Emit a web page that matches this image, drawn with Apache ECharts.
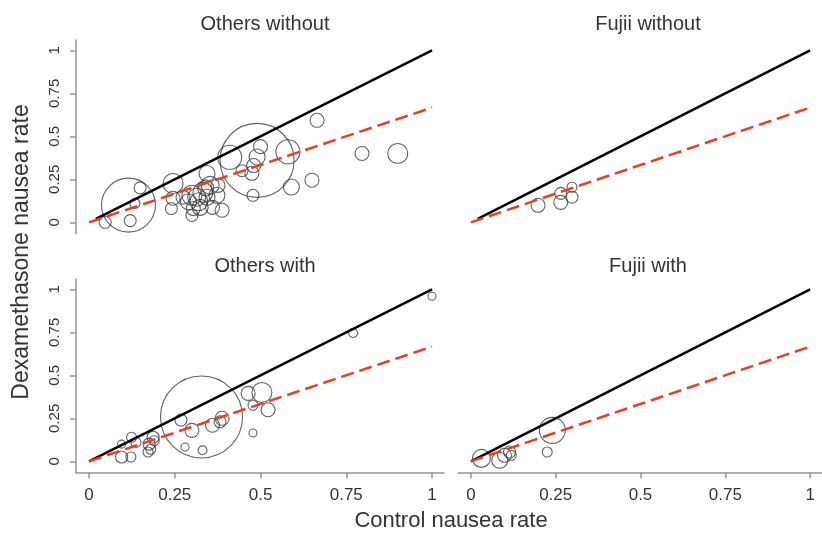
<!DOCTYPE html>
<html>
<head>
<meta charset="utf-8">
<script src="https://cdn.jsdelivr.net/npm/echarts@6/dist/echarts.min.js"></script>
<style>
  html, body { margin: 0; padding: 0; background: #fff; }
  #chart { width: 822px; height: 534px; }
</style>
</head>
<body>
<div id="chart"></div>
<script>
// Each study: [control rate, dexamethasone rate, weight]
const othersWithout = [
  [0.047, 0.00, 36], [0.115, 0.10, 729], [0.12, 0.01, 36], [0.134, 0.11, 25],
  [0.149, 0.20, 36], [0.245, 0.226, 100], [0.245, 0.14, 49], [0.24, 0.08, 36],
  [0.274, 0.146, 49], [0.30, 0.157, 100], [0.314, 0.146, 81], [0.304, 0.08, 49],
  [0.30, 0.04, 36], [0.332, 0.174, 100], [0.344, 0.146, 64], [0.324, 0.087, 64],
  [0.353, 0.215, 81], [0.344, 0.284, 64], [0.373, 0.157, 64], [0.388, 0.07, 49],
  [0.36, 0.087, 49], [0.376, 0.215, 49], [0.41, 0.378, 144], [0.49, 0.36, 1369],
  [0.446, 0.30, 36], [0.478, 0.157, 36], [0.58, 0.41, 144], [0.59, 0.205, 64],
  [0.65, 0.245, 49], [0.665, 0.593, 49], [0.796, 0.40, 49], [0.90, 0.40, 100],
  [0.50, 0.44, 49], [0.49, 0.38, 64], [0.48, 0.33, 49], [0.475, 0.285, 49],
  [0.29, 0.12, 64], [0.32, 0.12, 81], [0.34, 0.20, 64]
];
const fujiiWithout = [
  [0.198, 0.099, 49], [0.265, 0.168, 36], [0.265, 0.116, 49],
  [0.298, 0.204, 25], [0.298, 0.146, 36]
];
const othersWith = [
  [1.0, 0.96, 16], [0.77, 0.746, 20], [0.328, 0.258, 1681], [0.464, 0.395, 49],
  [0.504, 0.40, 100], [0.478, 0.326, 25], [0.522, 0.30, 49], [0.478, 0.165, 16],
  [0.388, 0.25, 49], [0.382, 0.23, 36], [0.36, 0.21, 49], [0.30, 0.18, 49],
  [0.268, 0.24, 36], [0.28, 0.083, 16], [0.331, 0.064, 20], [0.187, 0.14, 36],
  [0.175, 0.10, 36], [0.172, 0.054, 25], [0.19, 0.12, 25], [0.124, 0.14, 25],
  [0.137, 0.11, 25], [0.095, 0.10, 16], [0.095, 0.025, 36], [0.122, 0.025, 25],
  [0.18, 0.07, 25]
];
const fujiiWith = [
  [0.031, 0.017, 81], [0.085, 0.006, 64], [0.099, 0.035, 49], [0.114, 0.054, 36],
  [0.119, 0.035, 25], [0.24, 0.18, 169], [0.225, 0.054, 25]
];

// Reference lines: no effect (identity) and pooled effect
const identityTop = [[0.02, 0.02], [1, 1]];
const identityBottom = [[0, 0], [1, 1]];
const pooledLine = [[0, 0], [1, 0.667]];

const panelTitles = ['Others without', 'Fujii without', 'Others with', 'Fujii with'];
const tickValues = [0, 0.25, 0.5, 0.75, 1];
const xTitle = 'Control nausea rate';
const yTitle = 'Dexamethasone nausea rate';

const FONT = "'Liberation Sans', Arial, sans-serif";
const AXIS_GREY = '#959595';
const TEXT = '#333';

const chart = echarts.init(document.getElementById('chart'), null, { renderer: 'canvas' });

const XMIN = -0.038, XMAX = 1.035, YMIN = -0.065, YMAX = 1.06;
const grids = [
  { left: 76, top: 40, width: 368, height: 193.5 },
  { left: 458, top: 40, width: 368, height: 193.5 },
  { left: 76, top: 279, width: 368, height: 193.5 },
  { left: 458, top: 279, width: 368, height: 193.5 }
];
const showY = [true, false, true, false];
const showX = [false, false, true, true];

function xAxisFor(i) {
  return {
    type: 'value', gridIndex: i, min: XMIN, max: XMAX,
    splitLine: { show: false },
    axisLine: { show: showX[i], onZero: false, lineStyle: { color: AXIS_GREY, width: 1.5 } },
    axisTick: { show: showX[i], inside: false, length: 6, customValues: tickValues,
                lineStyle: { color: AXIS_GREY, width: 1.5 } },
    axisLabel: { show: showX[i], customValues: tickValues, margin: 14,
                 color: TEXT, fontSize: 17, fontFamily: FONT,
                 formatter: v => String(v) }
  };
}
function yAxisFor(i) {
  return {
    type: 'value', gridIndex: i, min: YMIN, max: YMAX,
    splitLine: { show: false },
    axisLine: { show: showY[i], onZero: false, lineStyle: { color: AXIS_GREY, width: 1.5 } },
    axisTick: { show: showY[i], inside: false, length: 6, customValues: tickValues,
                lineStyle: { color: AXIS_GREY, width: 1.5 } },
    axisLabel: { show: showY[i], customValues: tickValues, rotate: 90, margin: 14,
                 color: TEXT, fontSize: 15, fontFamily: FONT,
                 formatter: v => String(v) }
  };
}

const panelData = [othersWithout, fujiiWithout, othersWith, fujiiWith];
const series = [];
panelData.forEach((pts, i) => {
  series.push({
    type: 'scatter', xAxisIndex: i, yAxisIndex: i, data: pts,
    symbol: 'circle',
    symbolSize: v => 2 * Math.sqrt(v[2]),
    itemStyle: { color: 'rgba(0,0,0,0)', borderColor: '#3a3a3a', borderWidth: 1.1 },
    silent: true, z: 2
  });
  series.push({
    type: 'line', xAxisIndex: i, yAxisIndex: i,
    data: i < 2 ? identityTop : identityBottom,
    showSymbol: false, silent: true, z: 3,
    lineStyle: { color: '#000', width: 2.5 }
  });
  series.push({
    type: 'line', xAxisIndex: i, yAxisIndex: i, data: pooledLine,
    showSymbol: false, silent: true, z: 4,
    lineStyle: { color: '#ee3b24', width: 2.5, type: [13, 6] }
  });
});

const titleCenters = [[260, 9], [643, 9], [260, 251], [643, 251]];

chart.setOption({
  animation: false,
  backgroundColor: '#fff',
  title: panelTitles.map((t, i) => ({
    text: t, left: titleCenters[i][0], top: titleCenters[i][1], textAlign: 'center',
    textStyle: { fontFamily: FONT, fontSize: 20, fontWeight: 'normal', color: TEXT }
  })),
  grid: grids,
  xAxis: [0, 1, 2, 3].map(xAxisFor),
  yAxis: [0, 1, 2, 3].map(yAxisFor),
  series: series,
  graphic: [
    { type: 'text', x: 22, y: 252, rotation: Math.PI / 2,
      style: { text: yTitle, fontFamily: FONT, fontSize: 23, fill: TEXT,
               align: 'center', verticalAlign: 'middle' } },
    { type: 'text', x: 451, y: 521,
      style: { text: xTitle, fontFamily: FONT, fontSize: 22, fill: TEXT,
               align: 'center', verticalAlign: 'middle' } }
  ]
});
</script>
</body>
</html>
